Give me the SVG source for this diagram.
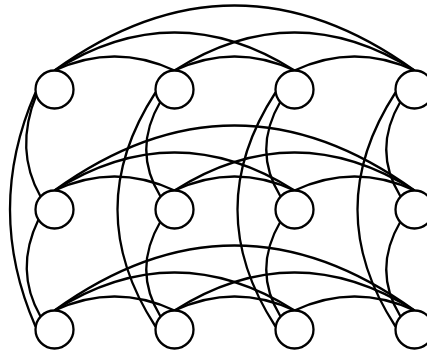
<svg xmlns="http://www.w3.org/2000/svg" width="427" height="355" viewBox="0 0 427 355">
<style>
.e{fill:none;stroke:#000;stroke-width:2.3}
.n{fill:#fff;stroke:#000;stroke-width:2.3}
</style>
<rect width="427" height="355" fill="#fff"/>
<g id="edges" class="e">
<!-- row 1 -->
<path d="M54.5 70.5 Q114.5 42.5 174.5 70.5"/>
<path d="M174.5 70.5 Q234.5 42.5 294.5 70.5"/>
<path d="M294.5 70.5 Q354.5 42.5 414.5 70.5"/>
<path d="M54.5 70.5 Q174.5 -5.5 294.5 70.5"/>
<path d="M174.5 70.5 Q294.5 -5.5 414.5 70.5"/>
<path d="M54.5 70.5 Q234.5 -59.5 414.5 70.5"/>
<!-- row 2 -->
<path d="M54.5 190.5 Q114.5 162.5 174.5 190.5"/>
<path d="M174.5 190.5 Q234.5 162.5 294.5 190.5"/>
<path d="M294.5 190.5 Q354.5 162.5 414.5 190.5"/>
<path d="M54.5 190.5 Q174.5 114.5 294.5 190.5"/>
<path d="M174.5 190.5 Q294.5 114.5 414.5 190.5"/>
<path d="M54.5 190.5 Q234.5 60.5 414.5 190.5"/>
<!-- row 3 -->
<path d="M54.5 310.5 Q114.5 282.5 174.5 310.5"/>
<path d="M174.5 310.5 Q234.5 282.5 294.5 310.5"/>
<path d="M294.5 310.5 Q354.5 282.5 414.5 310.5"/>
<path d="M54.5 310.5 Q174.5 234.5 294.5 310.5"/>
<path d="M174.5 310.5 Q294.5 234.5 414.5 310.5"/>
<path d="M54.5 310.5 Q234.5 180.5 414.5 310.5"/>
<!-- column 1 -->
<path d="M36.5 94.5 Q14 150 40.5 196.5"/>
<path d="M38.5 219.5 Q14 270 40.5 316.5"/>
<path d="M35.5 92.5 Q-15.5 209.5 35.5 326.5"/>
<!-- column 2 -->
<path d="M160.5 101.5 Q132 150 160.5 196.5"/>
<path d="M160.5 221.5 Q132 270 160.5 316.5"/>
<path d="M155.5 92.5 Q79.5 209.5 155.5 326.5"/>
<!-- column 3 -->
<path d="M280.5 101.5 Q252 150 280.5 196.5"/>
<path d="M280.5 221.5 Q252 270 280.5 316.5"/>
<path d="M275.5 92.5 Q199.5 209.5 275.5 326.5"/>
<!-- column 4 -->
<path d="M400.5 101.5 Q372 150 400.5 196.5"/>
<path d="M400.5 221.5 Q372 270 400.5 316.5"/>
<path d="M395.5 92.5 Q319.5 209.5 395.5 326.5"/>
</g>
<g id="n11"><circle class="n" cx="54.5" cy="89.5" r="19"/></g>
<g id="n12"><circle class="n" cx="174.5" cy="89.5" r="19"/></g>
<g id="n13"><circle class="n" cx="294.5" cy="89.5" r="19"/></g>
<g id="n14"><circle class="n" cx="414.5" cy="89.5" r="19"/></g>
<g id="n21"><circle class="n" cx="54.5" cy="209.5" r="19"/></g>
<g id="n22"><circle class="n" cx="174.5" cy="209.5" r="19"/></g>
<g id="n23"><circle class="n" cx="294.5" cy="209.5" r="19"/></g>
<g id="n24"><circle class="n" cx="414.5" cy="209.5" r="19"/></g>
<g id="n31"><circle class="n" cx="54.5" cy="329.5" r="19"/></g>
<g id="n32"><circle class="n" cx="174.5" cy="329.5" r="19"/></g>
<g id="n33"><circle class="n" cx="294.5" cy="329.5" r="19"/></g>
<g id="n34"><circle class="n" cx="414.5" cy="329.5" r="19"/></g>
</svg>
